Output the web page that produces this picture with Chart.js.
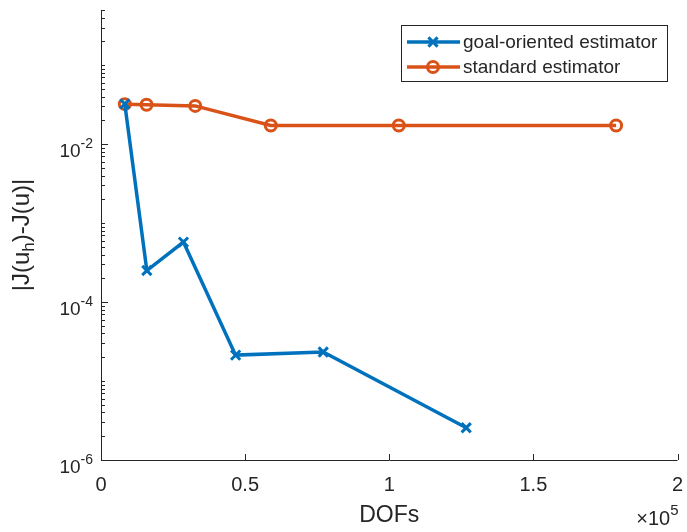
<!DOCTYPE html>
<html>
<head>
<meta charset="utf-8">
<script src="https://cdn.jsdelivr.net/npm/chart.js@4/dist/chart.umd.min.js"></script>
<style>
  body { margin: 0; background: #fff; }
  #wrap { width: 687px; height: 532px; }
</style>
</head>
<body>
<div id="wrap"><canvas id="errPlot" width="687" height="532"></canvas></div>
<script>
// degrees of freedom and functional error per refinement step
const goalDofs = [8260, 15900, 28600, 46700, 77100, 126700];
const goalErr  = [0.0323, 2.51e-4, 5.75e-4, 2.13e-5, 2.33e-5, 2.56e-6];
const stdDofs  = [8260, 15800, 32700, 58900, 103300, 178700];
const stdErr   = [0.0321, 0.0315, 0.0305, 0.0172, 0.0172, 0.0172];

const seriesNames = ['goal-oriented estimator', 'standard estimator'];
const xTicks = [0, 0.5e5, 1e5, 1.5e5, 2e5];
const xTickLabels = ['0', '0.5', '1', '1.5', '2'];
const yLabelExps = [-2, -4, -6];

const BLUE = '#0072BD';
const ORANGE = '#D95319';
const INK = '#262626';
const FONT = '"Liberation Sans", Arial, Helvetica, sans-serif';

function toPoints(xs, ys) {
  return xs.map((x, i) => ({ x: x, y: ys[i] }));
}

// draw text with a raised exponent, anchored at its right edge
function supText(ctx, base, exp, xRight, y, size) {
  ctx.font = size + 'px ' + FONT;
  const bw = ctx.measureText(base).width;
  ctx.font = Math.round(size * 0.74) + 'px ' + FONT;
  const ew = ctx.measureText(exp).width;
  const x0 = xRight - bw - ew;
  ctx.textAlign = 'left';
  ctx.textBaseline = 'alphabetic';
  ctx.font = size + 'px ' + FONT;
  ctx.fillText(base, x0, y);
  ctx.font = Math.round(size * 0.74) + 'px ' + FONT;
  ctx.fillText(exp, x0 + bw, y - size * 0.5);
}

const axesPlugin = {
  id: 'matlabAxes',
  afterDraw(chart) {
    const ctx = chart.ctx;
    const xs = chart.scales.x, ys = chart.scales.y;
    const a = chart.chartArea;
    ctx.save();
    ctx.strokeStyle = INK;
    ctx.fillStyle = INK;
    ctx.lineWidth = 1;

    // axis lines
    ctx.beginPath();
    ctx.moveTo(a.left + 0.5, a.top);
    ctx.lineTo(a.left + 0.5, a.bottom + 0.5);
    ctx.lineTo(a.right, a.bottom + 0.5);
    ctx.stroke();

    // y ticks: every 1..9 x 10^n, longer on labelled decades
    ctx.beginPath();
    for (let n = -6; n <= -1; n++) {
      for (let k = 1; k <= 9; k++) {
        const v = k * Math.pow(10, n);
        if (v > ys.max) continue;
        const py = Math.round(ys.getPixelForValue(v)) + 0.5;
        const len = (k === 1 && n % 2 === 0) ? 7 : 4;
        ctx.moveTo(a.left, py);
        ctx.lineTo(a.left + len, py);
      }
    }
    // x ticks point inward
    xTicks.forEach(v => {
      const px = Math.round(xs.getPixelForValue(v)) + 0.5;
      ctx.moveTo(px, a.bottom);
      ctx.lineTo(px, a.bottom - 6);
    });
    ctx.stroke();

    // y tick labels 10^n
    yLabelExps.forEach(n => {
      const py = ys.getPixelForValue(Math.pow(10, n));
      supText(ctx, '10', '-' + Math.abs(n), a.left - 8, py + 13, 19);
    });

    // x tick labels
    ctx.font = '20px ' + FONT;
    ctx.textAlign = 'center';
    ctx.textBaseline = 'alphabetic';
    xTicks.forEach((v, i) => {
      ctx.fillText(xTickLabels[i], xs.getPixelForValue(v), a.bottom + 31);
    });

    // x exponent and axis titles
    supText(ctx, '\u00d710', '5', a.right + 1, a.bottom + 65, 20);
    ctx.font = '23px ' + FONT;
    ctx.textAlign = 'center';
    ctx.fillText('DOFs', (a.left + a.right) / 2, a.bottom + 62);

    // rotated y title with subscript h
    ctx.translate(29, (a.top + a.bottom) / 2);
    ctx.rotate(-Math.PI / 2);
    const p1 = '|J(u', sub = 'h', p2 = ')-J(u)|';
    ctx.font = '24px ' + FONT;
    const w1 = ctx.measureText(p1).width, w2 = ctx.measureText(p2).width;
    ctx.font = '17px ' + FONT;
    const ws = ctx.measureText(sub).width;
    let x = -(w1 + ws + w2) / 2;
    ctx.textAlign = 'left';
    ctx.font = '24px ' + FONT;
    ctx.fillText(p1, x, 0); x += w1;
    ctx.font = '17px ' + FONT;
    ctx.fillText(sub, x, 5); x += ws;
    ctx.font = '24px ' + FONT;
    ctx.fillText(p2, x, 0);
    ctx.restore();

    // legend box with line + marker samples
    ctx.save();
    const lx = 401, ly = 25, lw = 266, lh = 56;
    ctx.fillStyle = '#fff';
    ctx.fillRect(lx, ly, lw, lh);
    ctx.strokeStyle = INK;
    ctx.lineWidth = 1;
    ctx.strokeRect(lx + 0.5, ly + 0.5, lw, lh);
    chart.data.datasets.forEach((ds, i) => {
      const ry = ly + 17 + i * 25;
      ctx.strokeStyle = ds.borderColor;
      ctx.lineWidth = ds.borderWidth;
      ctx.beginPath();
      ctx.moveTo(lx + 6, ry);
      ctx.lineTo(lx + 59, ry);
      ctx.stroke();
      ctx.fillStyle = 'rgba(0,0,0,0)';
      ctx.lineWidth = ds.pointBorderWidth;
      Chart.helpers.drawPoint(ctx, {
        pointStyle: ds.pointStyle,
        radius: ds.pointRadius,
        borderWidth: ds.pointBorderWidth,
        rotation: 0
      }, lx + 32, ry);
      ctx.fillStyle = INK;
      ctx.font = '19px ' + FONT;
      ctx.textAlign = 'left';
      ctx.textBaseline = 'middle';
      ctx.fillText(ds.label, lx + 62, ry + 1);
    });
    ctx.restore();
  }
};

new Chart(document.getElementById('errPlot'), {
  type: 'line',
  data: {
    datasets: [
      {
        label: seriesNames[0],
        data: toPoints(goalDofs, goalErr),
        borderColor: BLUE,
        backgroundColor: 'rgba(0,0,0,0)',
        borderWidth: 3.5,
        pointStyle: 'crossRot',
        pointRadius: 6.5,
        pointBorderWidth: 3,
        pointBorderColor: BLUE,
        pointBackgroundColor: 'rgba(0,0,0,0)',
        tension: 0,
        clip: false
      },
      {
        label: seriesNames[1],
        data: toPoints(stdDofs, stdErr),
        borderColor: ORANGE,
        backgroundColor: 'rgba(0,0,0,0)',
        borderWidth: 3.5,
        pointStyle: 'circle',
        pointRadius: 5.5,
        pointBorderWidth: 3,
        pointBorderColor: ORANGE,
        pointBackgroundColor: 'rgba(0,0,0,0)',
        tension: 0,
        clip: false
      }
    ]
  },
  options: {
    responsive: false,
    animation: false,
    layout: { padding: { left: 101, right: 5, top: 10, bottom: 72 } },
    plugins: { legend: { display: false }, tooltip: { enabled: false } },
    scales: {
      x: { type: 'linear', min: 0, max: 2e5, display: false },
      y: { type: 'logarithmic', min: 1e-6, max: 0.5, display: false }
    }
  },
  plugins: [axesPlugin]
});
</script>
</body>
</html>
